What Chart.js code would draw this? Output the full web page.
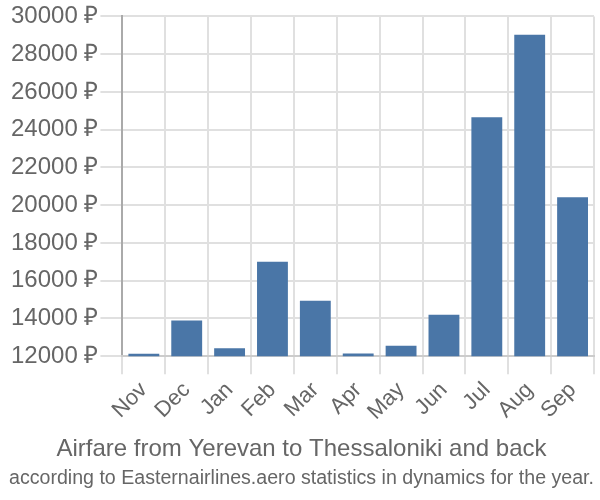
<!DOCTYPE html>
<html>
<head>
<meta charset="utf-8">
<script src="https://cdn.jsdelivr.net/npm/chart.js@4/dist/chart.umd.min.js"></script>
<style>
  html, body { margin: 0; padding: 0; background: #fff; }
  #wrap { width: 600px; height: 500px; }
</style>
</head>
<body>
<div id="wrap"><canvas id="chart" width="600" height="500"></canvas></div>
<script>
const months = ['Nov', 'Dec', 'Jan', 'Feb', 'Mar', 'Apr', 'May', 'Jun', 'Jul', 'Aug', 'Sep'];
const prices = [12130, 13890, 12420, 17000, 14930, 12140, 12550, 14190, 24660, 29030, 20420];
const yMin = 12000;
const yMax = 30000;
const yStep = 2000;

const ctx = document.getElementById('chart').getContext('2d');
Chart.defaults.font.family = '"Liberation Sans", Arial, sans-serif';
Chart.defaults.color = '#666';

new Chart(ctx, {
  type: 'bar',
  data: {
    labels: months,
    datasets: [
      {
        label: 'Airfare',
        data: prices,
        backgroundColor: '#4a76a7',
        borderWidth: 0,
      },
    ],
  },
  options: {
    responsive: false,
    animation: false,
    layout: { padding: { left: 9, right: 6, top: 0 } },
    plugins: {
      legend: { display: false },
      tooltip: { enabled: false },
      // at the bottom the subtitle sits above the title, so the big line goes in subtitle
      subtitle: {
        display: true,
        position: 'bottom',
        text: 'Airfare from Yerevan to Thessaloniki and back',
        font: { size: 24, weight: 'normal' },
        color: '#666',
        padding: { top: 7, bottom: 2 },
      },
      title: {
        display: true,
        position: 'bottom',
        text: 'according to Easternairlines.aero statistics in dynamics for the year.',
        font: { size: 20, weight: 'normal' },
        color: '#666',
        padding: { top: 0, bottom: 10 },
      },
    },
    scales: {
      y: {
        min: yMin,
        max: yMax,
        ticks: {
          stepSize: yStep,
          font: { size: 24 },
          color: '#666',
          padding: 2,
          callback: (value) => value + ' ₽',
        },
        grid: { color: '#e0e0e0', lineWidth: 2, tickLength: 22 },
        border: { color: '#aaa', width: 2 },
      },
      x: {
        ticks: {
          font: { size: 22 },
          color: '#666',
          maxRotation: 45,
          minRotation: 45,
        },
        grid: { color: '#e0e0e0', lineWidth: 2, tickLength: 18, offset: true },
        border: { color: '#ccc', width: 2 },
      },
    },
  },
});
</script>
</body>
</html>
